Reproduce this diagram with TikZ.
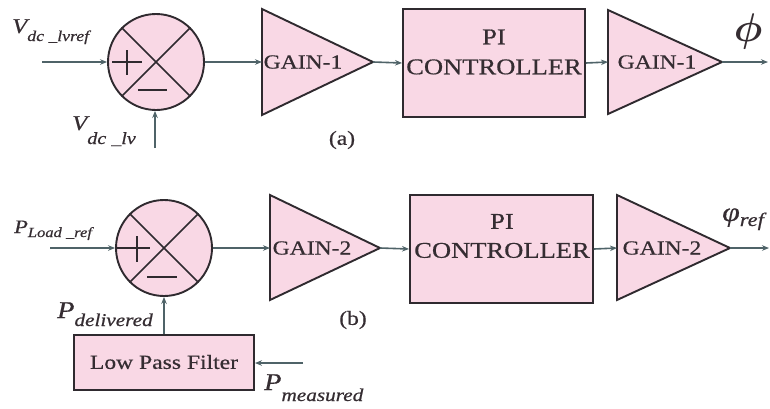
\RequirePackage{fix-cm}
\documentclass[tikz,border=0pt]{standalone}
\usepackage{bm}
\usepackage{fontspec}
\setmainfont{Liberation Serif}[FakeStretch=1.18,FakeBold=0.6]
\usetikzlibrary{arrows.meta}
\definecolor{pinkfill}{HTML}{F9D8E5}
\definecolor{edge}{HTML}{2F2A2F}
\definecolor{wire}{HTML}{4F6368}
\definecolor{ink}{HTML}{352D32}
\newcommand\fsz[1]{\fontsize{#1}{#1}\selectfont}
\begin{document}
\begin{tikzpicture}[x=1pt,y=-1pt,
  block/.style={draw=edge,line width=1.9pt,fill=pinkfill},
  boxnode/.style={block,rectangle,inner sep=0pt},
  sumnode/.style={circle,draw=edge,line width=1.9pt,fill=pinkfill,minimum size=96pt,inner sep=0pt},
  conn/.style={draw=wire,line width=1.6pt,-{Stealth[length=7pt,width=5.5pt]}},
  sign/.style={draw=edge,line width=1.7pt},
  txt/.style={text=ink,inner sep=0pt},
  lbl/.style={txt,anchor=base west},
]
\useasboundingbox (0,0) rectangle (770,408);
\fill[white] (0,0) rectangle (770,408);

% ---------------- (a) ----------------
\node[sumnode] (s1) at (156,62) {};
\draw[sign] (s1.135) -- (s1.-45) (s1.45) -- (s1.-135);
\draw[sign] (112,62) -- (142,62) (127,50) -- (127,75);
\draw[sign] (138,90) -- (167,90);

\draw[block] (262,9) -- (373,62) -- (262,115) -- cycle;
\coordinate (g1in) at (262,62);
\coordinate (g1out) at (373,62);
\node[txt,font=\fsz{20}] (g1t) at (303,62) {GAIN-1};

\node[boxnode,minimum width=182pt,minimum height=108pt] (pi1) at (494,63) {};
\node[txt,align=center,font=\fontsize{22.5}{30}\selectfont] (pi1t) at (494,52) {PI\\CONTROLLER};

\draw[block] (608,10) -- (722,62) -- (608,114) -- cycle;
\coordinate (g2in) at (608,62);
\coordinate (g2out) at (722,62);
\node[txt,font=\fsz{20}] (g2t) at (657,62) {GAIN-1};

\coordinate (in1) at (42,62);
\coordinate (fb1) at (155,148);
\coordinate (out1) at (768,62);
\draw[conn] (in1) -- (s1.west);
\draw[conn] (fb1) -- (fb1 |- s1.south);
\draw[conn] (s1.east) -- (g1in);
\draw[conn] (g1out) -- (pi1.west);
\draw[conn] (pi1.east) -- (g2in);
\draw[conn] (g2out) -- (out1);

\node[lbl,font=\fsz{21}\itshape] (vref) at (12,33) {V\raisebox{-8pt}{\fsz{15}dc \_lvref}};
\node[lbl,font=\fsz{21}\itshape] (vlv) at (72,130) {V\raisebox{-14pt}{\fsz{17}dc \_lv}};
\node[txt,font=\fsz{40}] (phi) at (748,31) {$\bm{\phi}$};
\node[txt,font=\fsz{20}] (capa) at (342,140) {(a)};

% ---------------- (b) ----------------
\node[sumnode] (s2) at (164,248) {};
\draw[sign] (s2.135) -- (s2.-45) (s2.45) -- (s2.-135);
\draw[sign] (117,248) -- (150,248) (137,236) -- (137,262);
\draw[sign] (147,277) -- (177,277);

\draw[block] (270,195) -- (380,248) -- (270,300) -- cycle;
\coordinate (g3in) at (270,248);
\coordinate (g3out) at (380,248);
\node[txt,font=\fsz{20}] (g3t) at (312,248) {GAIN-2};

\node[boxnode,minimum width=183pt,minimum height=108pt] (pi2) at (501.5,249) {};
\node[txt,align=center,font=\fontsize{22.5}{29}\selectfont] (pi2t) at (502,236) {PI\\CONTROLLER};

\draw[block] (617,195) -- (730,248) -- (617,300) -- cycle;
\coordinate (g4in) at (617,248);
\coordinate (g4out) at (730,248);
\node[txt,font=\fsz{20}] (g4t) at (662,248) {GAIN-2};

\node[boxnode,minimum width=180pt,minimum height=55pt] (lpf) at (164,362.5) {};
\node[txt,font=\fsz{20}] (lpft) at (164,362) {Low Pass Filter};

\coordinate (in2) at (50,248);
\coordinate (pm) at (303,363);
\coordinate (out2) at (769,248);
\draw[conn] (in2) -- (s2.west);
\draw[conn] (lpf.north) -- (s2.south);
\draw[conn] (pm) -- (pm -| lpf.east);
\draw[conn] (s2.east) -- (g3in);
\draw[conn] (g3out) -- (pi2.west);
\draw[conn] (pi2.east) -- (g4in);
\draw[conn] (g4out) -- (out2);

\node[lbl,font=\fsz{19}\itshape] (pload) at (14,233) {P\raisebox{-4pt}{\fsz{14}Load \_ref}};
\node[lbl,font=\fsz{24}\itshape] (pdel) at (57,318) {P\raisebox{-8pt}{\fsz{18}delivered}};
\node[lbl,font=\fsz{24}\itshape] (pmeas) at (264,390) {P\raisebox{-11pt}{\fsz{18}measured}};
\node[lbl,font=\fsz{27}\itshape] (phiref) at (722,221) {φ\raisebox{-5pt}{\fsz{19}ref}};
\node[txt,font=\fsz{20}] (capb) at (353,320) {(b)};
\end{tikzpicture}
\end{document}
